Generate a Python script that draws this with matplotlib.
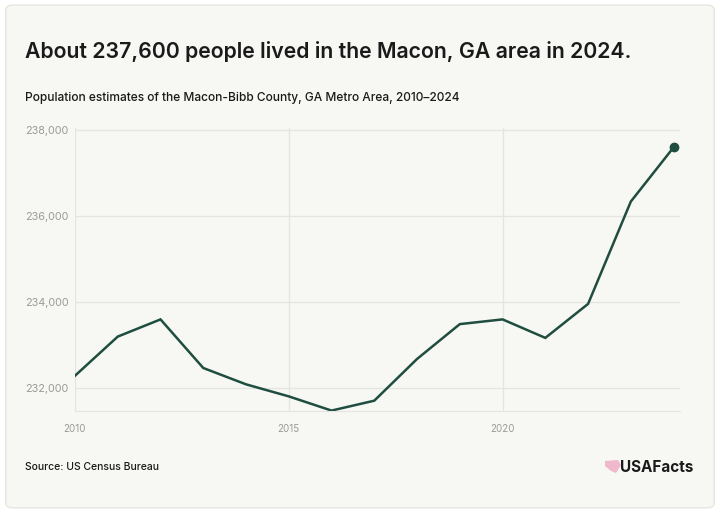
import matplotlib.pyplot as plt
from matplotlib.patches import FancyBboxPatch, Polygon
from matplotlib.ticker import FuncFormatter

years = [2010, 2011, 2012, 2013, 2014, 2015, 2016, 2017, 2018, 2019, 2020, 2021, 2022, 2023, 2024]
population = [232290, 233200, 233600, 232470, 232090, 231810, 231480, 231710, 232680, 233490,
              233600, 233170, 233960, 236340, 237600]
ytick_vals = [232000, 234000, 236000, 238000]
xtick_vals = [2010, 2015, 2020]

title = "About 237,600 people lived in the Macon, GA area in 2024."
subtitle = "Population estimates of the Macon-Bibb County, GA Metro Area, 2010\u20132024"
source = "Source: US Census Bureau"

bg = '#f7f7f4'
line_col = '#1f4e40'
plt.rcParams['font.family'] = ['Inter', 'DejaVu Sans']

fig = plt.figure(figsize=(7.2, 5.13), dpi=100)
fig.patch.set_facecolor('white')
card = FancyBboxPatch((0.008, 0.01), 0.984, 0.98, boxstyle='round,pad=0,rounding_size=0.01',
                      transform=fig.transFigure, facecolor=bg, edgecolor='#e6e6e2', lw=1, zorder=-5)
fig.patches.append(card)

ax = fig.add_axes([75 / 720, 1 - 411 / 513, (680 - 75) / 720, (411 - 128) / 513])
ax.set_facecolor(bg)
ax.plot(years, population, color=line_col, lw=1.8, solid_joinstyle='miter')
ax.plot(years[-1], population[-1], 'o', color=line_col, ms=6)

ax.set_xlim(2010, 2024.15)
ax.set_ylim(231470, 238050)
ax.set_xticks(xtick_vals)
ax.set_yticks(ytick_vals)
ax.yaxis.set_major_formatter(FuncFormatter(lambda v, p: f'{int(v):,}'))
ax.tick_params(length=0, labelsize=7, colors='#9a9a9a', pad=9)
ax.tick_params(axis='y', labelsize=7.8, pad=36)
for lab in ax.get_yticklabels():
    lab.set_horizontalalignment('left')
ax.grid(color='#e4e4e0', lw=0.9)
for s in ['top', 'right', 'left']:
    ax.spines[s].set_visible(False)
ax.spines['bottom'].set_color('#e4e4e0')

fig.text(25 / 720, 1 - 52 / 513, title, fontsize=15.3, fontweight='semibold', color='#1a1a1a', va='center')
fig.text(25 / 720, 1 - 98 / 513, subtitle, fontsize=8.6, fontweight='medium', color='#1a1a1a', va='center')
fig.text(25 / 720, 1 - 467 / 513, source, fontsize=7.5, fontweight='medium', color='#1a1a1a', va='center')

# logo
icon_px = [[605, 461], [618, 460], [621, 465], [616, 473], [611, 471], [605, 466]]
fig.patches.append(Polygon([[x / 720, 1 - y / 513] for x, y in icon_px], closed=True,
                           transform=fig.transFigure, facecolor='#f0b8cc', edgecolor='none'))
fig.text(620 / 720, 1 - 467 / 513, 'USAFacts', fontsize=11, fontweight='bold', color='#1a1a1a', va='center')

fig.savefig('out.png', dpi=100, facecolor='white')
